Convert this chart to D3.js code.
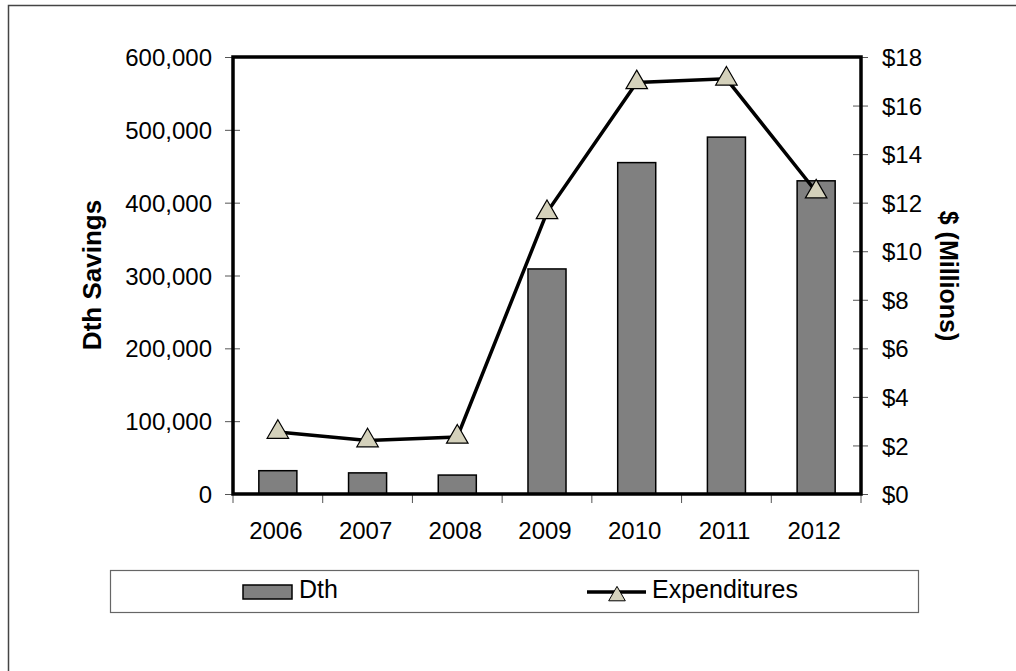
<!DOCTYPE html>
<html>
<head>
<meta charset="utf-8">
<script src="https://d3js.org/d3.v7.min.js"></script>
<style>
  body { margin: 0; background: #fff; }
  text { font-family: "Liberation Sans", Arial, sans-serif; fill: #000; }
</style>
</head>
<body>
<div id="chart"></div>
<script>
  // data
  var years = ["2006", "2007", "2008", "2009", "2010", "2011", "2012"];
  var dthSavings = [32000, 29000, 26000, 309000, 455000, 490000, 430000];
  var expenditures = [2.55, 2.2, 2.35, 11.6, 16.95, 17.1, 12.45];
  var leftTicks = [0, 100000, 200000, 300000, 400000, 500000, 600000];
  var rightTicks = [0, 2, 4, 6, 8, 10, 12, 14, 16, 18];

  var width = 1016, height = 671;
  var plot = {left: 233, right: 861, top: 57, bottom: 494};

  var svg = d3.select("#chart").append("svg")
    .attr("width", width)
    .attr("height", height);

  // outer frame
  svg.append("rect")
    .attr("x", 8.5).attr("y", 5.5)
    .attr("width", 1020).attr("height", 700)
    .attr("fill", "none")
    .attr("stroke", "#444")
    .attr("stroke-width", 1.5);

  var x = d3.scaleBand()
    .domain(years)
    .range([plot.left, plot.right])
    .paddingInner(0.576)
    .paddingOuter(0.288);

  var yLeft = d3.scaleLinear().domain([0, 600000]).range([plot.bottom, plot.top]);
  var yRight = d3.scaleLinear().domain([0, 18]).range([plot.bottom, plot.top]);

  // bars
  svg.selectAll("rect.bar")
    .data(dthSavings)
    .enter().append("rect")
    .attr("class", "bar")
    .attr("x", function(d, i) { return x(years[i]); })
    .attr("y", function(d) { return yLeft(d); })
    .attr("width", x.bandwidth())
    .attr("height", function(d) { return plot.bottom - yLeft(d); })
    .attr("fill", "#808080")
    .attr("stroke", "#000")
    .attr("stroke-width", 1.5);

  // left axis
  var leftAxis = svg.append("g")
    .attr("transform", "translate(" + plot.left + ",0)")
    .call(d3.axisLeft(yLeft).tickValues(leftTicks).tickSize(7)
      .tickFormat(d3.format(",")).tickPadding(14));
  leftAxis.select(".domain").remove();
  leftAxis.selectAll(".tick line").attr("x2", -8).attr("x1", 7).attr("stroke", "#555");
  leftAxis.selectAll("text").style("font-size", "24px")
    .attr("dy", "0.36em");

  // right axis
  var rightAxis = svg.append("g")
    .attr("transform", "translate(" + plot.right + ",0)")
    .call(d3.axisRight(yRight).tickValues(rightTicks).tickSize(7)
      .tickFormat(function(d) { return "$" + d; }).tickPadding(14));
  rightAxis.select(".domain").remove();
  rightAxis.selectAll(".tick line").attr("x1", -8).attr("x2", 7).attr("stroke", "#555");
  rightAxis.selectAll("text").style("font-size", "24px")
    .attr("dy", "0.36em");

  // bottom axis: ticks at category boundaries
  var bottomAxis = svg.append("g")
    .attr("transform", "translate(0," + plot.bottom + ")")
    .call(d3.axisBottom(x).tickSize(0).tickPadding(28));
  bottomAxis.select(".domain").remove();
  bottomAxis.selectAll("text").style("font-size", "24px").attr("dx", -2);
  var bounds = years.map(function(d) { return x(d) - x.step() * x.paddingInner() / 2; });
  bounds.push(plot.right);
  bottomAxis.selectAll("line.cat")
    .data(bounds)
    .enter().append("line")
    .attr("class", "cat")
    .attr("x1", function(d) { return d; }).attr("x2", function(d) { return d; })
    .attr("y1", 0).attr("y2", 9)
    .attr("stroke", "#555");

  // plot frame
  svg.append("rect")
    .attr("x", plot.left).attr("y", plot.top)
    .attr("width", plot.right - plot.left)
    .attr("height", plot.bottom - plot.top)
    .attr("fill", "none")
    .attr("stroke", "#000")
    .attr("stroke-width", 3.5);

  // expenditures line
  var line = d3.line()
    .x(function(d, i) { return x(years[i]) + x.bandwidth() / 2; })
    .y(function(d) { return yRight(d); });

  svg.append("path")
    .datum(expenditures)
    .attr("d", line)
    .attr("fill", "none")
    .attr("stroke", "#000")
    .attr("stroke-width", 3.5);

  var tri = d3.symbol().type(d3.symbolTriangle).size(200);
  svg.selectAll("path.marker")
    .data(expenditures)
    .enter().append("path")
    .attr("class", "marker")
    .attr("d", tri)
    .attr("transform", function(d, i) {
      return "translate(" + (x(years[i]) + x.bandwidth() / 2) + "," + yRight(d) + ")";
    })
    .attr("fill", "#d4d1bb")
    .attr("stroke", "#000")
    .attr("stroke-width", 1.2);

  // axis titles
  svg.append("text")
    .attr("transform", "translate(101,275) rotate(-90)")
    .attr("text-anchor", "middle")
    .style("font-size", "26px")
    .style("font-weight", "bold")
    .text("Dth Savings");

  svg.append("text")
    .attr("transform", "translate(940,276) rotate(90)")
    .attr("text-anchor", "middle")
    .style("font-size", "25px")
    .style("font-weight", "bold")
    .text("$ (Millions)");

  // legend
  var legend = svg.append("g");
  legend.append("rect")
    .attr("x", 110.5).attr("y", 570.5)
    .attr("width", 808).attr("height", 42)
    .attr("fill", "#fff")
    .attr("stroke", "#666")
    .attr("stroke-width", 1.2);

  legend.append("rect")
    .attr("x", 243).attr("y", 585)
    .attr("width", 49).attr("height", 14)
    .attr("fill", "#808080")
    .attr("stroke", "#000")
    .attr("stroke-width", 1.5);
  legend.append("text")
    .attr("x", 299).attr("y", 598)
    .style("font-size", "25px")
    .text("Dth");

  legend.append("line")
    .attr("x1", 587).attr("x2", 646)
    .attr("y1", 592).attr("y2", 592)
    .attr("stroke", "#000")
    .attr("stroke-width", 3.5);
  legend.append("path")
    .attr("d", d3.symbol().type(d3.symbolTriangle).size(120))
    .attr("transform", "translate(617,596)")
    .attr("fill", "#d4d1bb")
    .attr("stroke", "#000")
    .attr("stroke-width", 1);
  legend.append("text")
    .attr("x", 652).attr("y", 598)
    .style("font-size", "25px")
    .text("Expenditures");
</script>
</body>
</html>
